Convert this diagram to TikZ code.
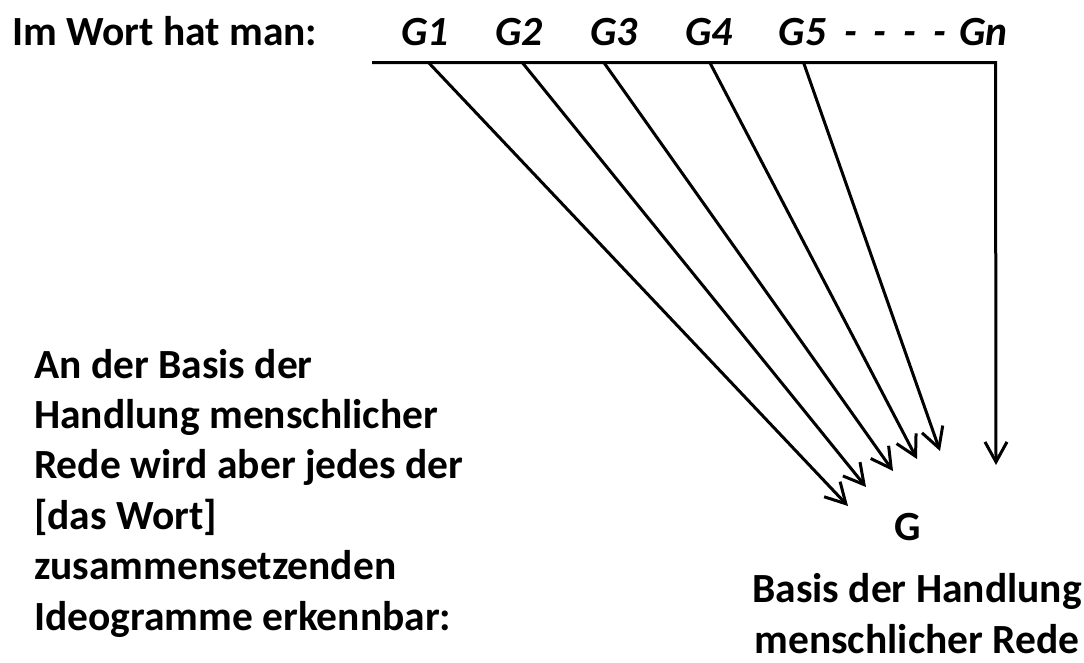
\documentclass[tikz,border=0pt]{standalone}
\usepackage{fontspec}
\setmainfont{Carlito}
\usetikzlibrary{arrows.meta}
\begin{document}
\begin{tikzpicture}[x=1pt,y=-1pt,
  lbl/.style={inner sep=0pt, font=\fontsize{41.5}{50.4}\selectfont\bfseries},
  glyph/.style={inner sep=0pt, font=\fontsize{41.5}{50.4}\selectfont\bfseries\itshape},
  conn/.style={line width=3pt, line join=miter,
    -{Straight Barb[length=20pt,width=22pt,line width=3pt]}}]
\useasboundingbox (0,0) rectangle (1084,662);

% heading and the ideograms of the word
\node[lbl, anchor=base west] (head) at (12,45) {Im Wort hat man:};
\node[glyph, anchor=base] (g1) at (425,45) {G1};
\node[glyph, anchor=base] (g2) at (519,45) {G2};
\node[glyph, anchor=base] (g3) at (614,45) {G3};
\node[glyph, anchor=base] (g4) at (709,45) {G4};
\node[glyph, anchor=base] (g5) at (802.5,45) {G5};
\node[glyph, anchor=base] (dots) at (895,45) {-\hspace{17pt}-\hspace{17pt}-\hspace{17pt}-};
\node[glyph, anchor=base] (gn) at (983.5,45) {Gn};

% bar under the ideograms and the points where the arrows leave it
\coordinate (bl) at (372,62.7);
\coordinate (br) at (995.5,62.7);
\coordinate (s1) at (428.7,62.7);
\coordinate (s2) at (522.4,62.7);
\coordinate (s3) at (604,62.7);
\coordinate (s4) at (709.9,62.7);
\coordinate (s5) at (803.6,62.7);

% arrow tips gathering at the basis G
\coordinate (t1) at (848,506);
\coordinate (t2) at (866,487);
\coordinate (t3) at (893,471);
\coordinate (t4) at (917,459);
\coordinate (t5) at (940,451);
\coordinate (tn) at (996,465);

\draw[conn] (bl) -- (br) -- (tn);
\draw[conn] (s1) -- (t1);
\draw[conn] (s2) -- (t2);
\draw[conn] (s3) -- (t3);
\draw[conn] (s4) -- (t4);
\draw[conn] (s5) -- (t5);

\node[lbl, anchor=base] (g) at (908,540) {G};
\node[lbl, align=center, anchor=base] (basis) at (917,653) {Basis der Handlung\\menschlicher Rede};

\node[lbl, align=left, anchor=base west] (desc) at (34,630)
  {An der Basis der\\Handlung menschlicher\\Rede wird aber jedes der\\{[das Wort]}\\zusammensetzenden\\Ideogramme erkennbar:};
\end{tikzpicture}
\end{document}
